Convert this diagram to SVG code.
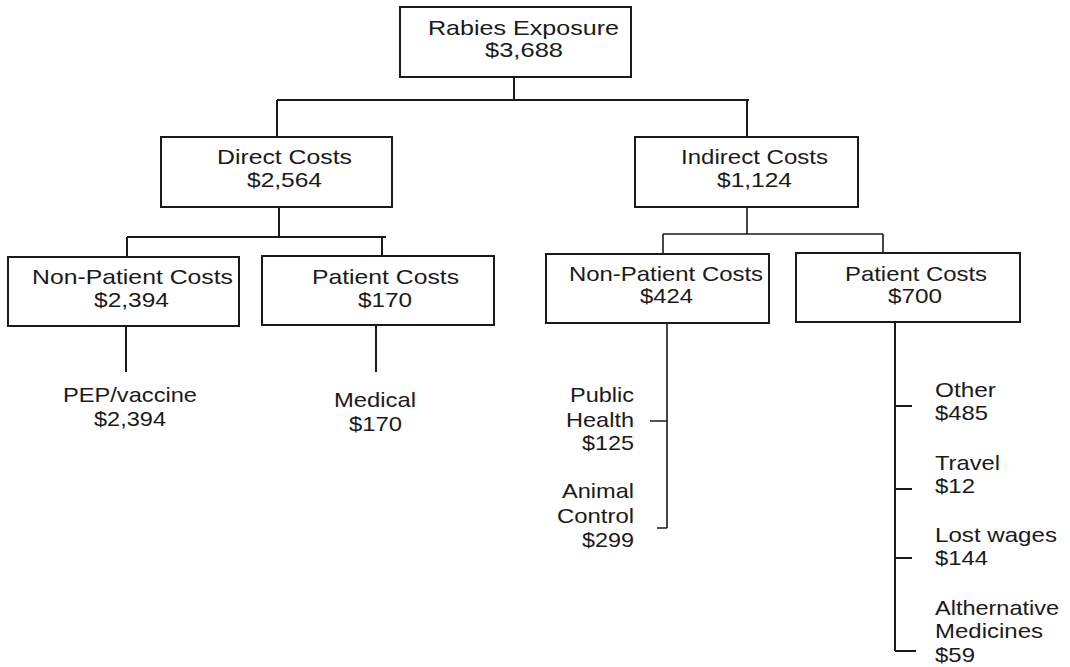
<svg xmlns="http://www.w3.org/2000/svg" width="1070" height="667" viewBox="0 0 1070 667">
<style>
.box{fill:#fff;stroke:#1a1a1a;stroke-width:2}
.ln{fill:none;stroke:#1a1a1a;stroke-width:2}
.thin{fill:none;stroke:#1a1a1a;stroke-width:1.6}
text{font-family:"Liberation Sans",Arial,sans-serif;font-size:21px;fill:#1a1a1a}
</style>
<rect width="1070" height="667" fill="#fff"/>
<g id="connectors">
<path class="ln" d="M514 77V100M277 100H749M277 100V137M747 100V137"/>
<path class="ln" d="M279 207V237M127 237H386M127 237V257M382 237V256"/>
<path class="thin" d="M747 207V234M663 234H883M663 234V254M883 234V253"/>
<path class="ln" d="M126 326V372M376 325V372"/>
<path class="thin" d="M667 323V528M650 421H667M657 528H667"/>
<path class="ln" d="M895 322V651M895 406H912M895 489H912M895 558H912M895 651H916"/>
</g>
<g id="rabies">
<rect class="box" x="400" y="7" width="231" height="70"/>
<text x="428" y="35" textLength="191" lengthAdjust="spacingAndGlyphs">Rabies Exposure</text>
<text x="485" y="57" textLength="78" lengthAdjust="spacingAndGlyphs">$3,688</text>
</g>
<g id="direct">
<rect class="box" x="161" y="137" width="231" height="70"/>
<text x="217" y="164" textLength="135" lengthAdjust="spacingAndGlyphs">Direct Costs</text>
<text x="247" y="187" textLength="75" lengthAdjust="spacingAndGlyphs">$2,564</text>
</g>
<g id="indirect">
<rect class="box" x="635" y="137" width="223" height="70"/>
<text x="681" y="164" textLength="147" lengthAdjust="spacingAndGlyphs">Indirect Costs</text>
<text x="717" y="187" textLength="75" lengthAdjust="spacingAndGlyphs">$1,124</text>
</g>
<g id="direct-nonpatient">
<rect class="box" x="8" y="257" width="231" height="69"/>
<text x="32" y="284" textLength="201" lengthAdjust="spacingAndGlyphs">Non-Patient Costs</text>
<text x="94" y="307" textLength="75" lengthAdjust="spacingAndGlyphs">$2,394</text>
</g>
<g id="direct-patient">
<rect class="box" x="262" y="256" width="232" height="69"/>
<text x="312" y="284" textLength="147" lengthAdjust="spacingAndGlyphs">Patient Costs</text>
<text x="358" y="307" textLength="54" lengthAdjust="spacingAndGlyphs">$170</text>
</g>
<g id="indirect-nonpatient">
<rect class="box" x="546" y="254" width="223" height="69"/>
<text x="569" y="281" textLength="194" lengthAdjust="spacingAndGlyphs">Non-Patient Costs</text>
<text x="640" y="303" textLength="53" lengthAdjust="spacingAndGlyphs">$424</text>
</g>
<g id="indirect-patient">
<rect class="box" x="796" y="253" width="224" height="69"/>
<text x="845" y="281" textLength="142" lengthAdjust="spacingAndGlyphs">Patient Costs</text>
<text x="888" y="303" textLength="54" lengthAdjust="spacingAndGlyphs">$700</text>
</g>
<g id="pep">
<text x="63" y="402" textLength="134" lengthAdjust="spacingAndGlyphs">PEP/vaccine</text>
<text x="94" y="426" textLength="72" lengthAdjust="spacingAndGlyphs">$2,394</text>
</g>
<g id="medical">
<text x="334" y="407" textLength="82" lengthAdjust="spacingAndGlyphs">Medical</text>
<text x="349" y="431" textLength="53" lengthAdjust="spacingAndGlyphs">$170</text>
</g>
<g id="public-health">
<text x="570" y="402" textLength="64" lengthAdjust="spacingAndGlyphs">Public</text>
<text x="566" y="427" textLength="68" lengthAdjust="spacingAndGlyphs">Health</text>
<text x="582" y="450" textLength="52" lengthAdjust="spacingAndGlyphs">$125</text>
</g>
<g id="animal-control">
<text x="562" y="498" textLength="72" lengthAdjust="spacingAndGlyphs">Animal</text>
<text x="557" y="523" textLength="77" lengthAdjust="spacingAndGlyphs">Control</text>
<text x="582" y="547" textLength="52" lengthAdjust="spacingAndGlyphs">$299</text>
</g>
<g id="other">
<text x="935" y="397" textLength="61" lengthAdjust="spacingAndGlyphs">Other</text>
<text x="935" y="420" textLength="53" lengthAdjust="spacingAndGlyphs">$485</text>
</g>
<g id="travel">
<text x="935" y="470" textLength="65" lengthAdjust="spacingAndGlyphs">Travel</text>
<text x="935" y="493" textLength="40" lengthAdjust="spacingAndGlyphs">$12</text>
</g>
<g id="lost-wages">
<text x="935" y="542" textLength="122" lengthAdjust="spacingAndGlyphs">Lost wages</text>
<text x="935" y="565" textLength="53" lengthAdjust="spacingAndGlyphs">$144</text>
</g>
<g id="alt-medicines">
<text x="935" y="615" textLength="124" lengthAdjust="spacingAndGlyphs">Althernative</text>
<text x="935" y="638" textLength="108" lengthAdjust="spacingAndGlyphs">Medicines</text>
<text x="935" y="662" textLength="40" lengthAdjust="spacingAndGlyphs">$59</text>
</g>
</svg>
